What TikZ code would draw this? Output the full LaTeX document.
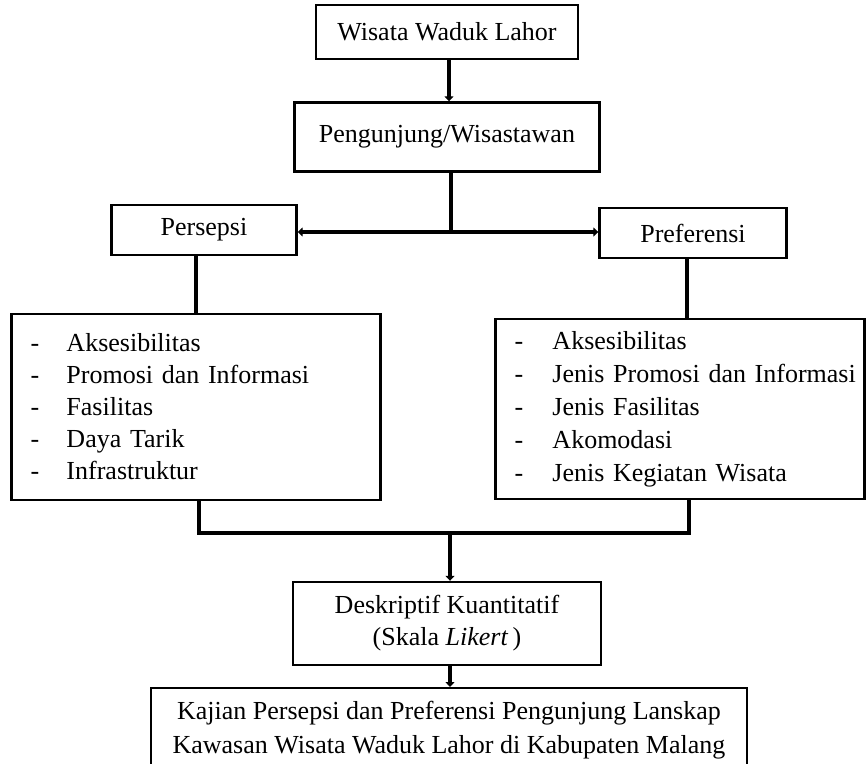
\documentclass[tikz,border=0pt]{standalone}
\usepackage{fontspec}
\setmainfont{Liberation Serif}
\usetikzlibrary{arrows.meta,positioning}
\newcommand{\butir}[2][36pt]{\hspace*{19pt}\makebox[#1][l]{-}#2}

\begin{document}
\begin{tikzpicture}[x=1pt,y=-1pt,
   font=\fontsize{26}{32}\selectfont,
   blok/.style={draw=black,line width=2.4pt,inner sep=0pt,align=center},
   daftar/.style={draw=black,line width=2.4pt,inner sep=0pt,text width=369pt,align=left},
   garis/.style={line width=3.6pt},
   panah/.style={garis,-{Triangle[length=5pt,width=9pt]}}]
  \useasboundingbox (0,0) rectangle (866,763);
  \node[blok,minimum width=262pt,minimum height=54pt] (wisata) at (447,32) {Wisata Waduk Lahor};
  \node[blok,minimum width=305pt,minimum height=69pt] (pengunjung) at (447,137) {Pengunjung/Wisastawan};
  \node[blok,minimum width=185pt,minimum height=50pt] (persepsi) at (204,230) {Persepsi};
  \node[blok,minimum width=187pt,minimum height=50pt] (preferensi) at (693,233) {Preferensi};
  \node[daftar,minimum height=186pt] (daftarA) at (196,407)
    {\butir{Aksesibilitas}\\
     \butir{Promosi dan Informasi}\\
     \butir{Fasilitas}\\
     \butir{Daya Tarik}\\
     \butir{Infrastruktur}};
  \node[daftar,minimum height=180pt,font=\fontsize{26}{33}\selectfont] (daftarB) at (680,409)
    {\butir[38pt]{Aksesibilitas}\\
     \butir[38pt]{Jenis Promosi dan Informasi}\\
     \butir[38pt]{Jenis Fasilitas}\\
     \butir[38pt]{Akomodasi}\\
     \butir[38pt]{Jenis Kegiatan Wisata}};
  \node[blok,minimum width=308pt,minimum height=83pt] (deskriptif) at (447,623.5)
    {Deskriptif Kuantitatif\\(Skala \textit{Likert}\,)};
  \node[blok,anchor=north,minimum width=596pt,inner ysep=13pt,
        font=\fontsize{26}{34}\selectfont] (kajian) at (449,687)
    {Kajian Persepsi dan Preferensi Pengunjung Lanskap\\Kawasan Wisata Waduk Lahor di Kabupaten Malang};

  % alur
  \coordinate (cabang) at (451,232);
  \coordinate (gabung) at (450,533);
  \draw[panah] (wisata.south -| 449,0) -- (pengunjung.north -| 449,0);
  \draw[garis] (pengunjung.south -| cabang) -- (cabang);
  \draw[panah] (cabang) -- (cabang -| persepsi.east);
  \draw[panah] (cabang) -- (cabang -| preferensi.west);
  \draw[garis] (persepsi.south -| daftarA.north) -- (daftarA.north);
  \draw[garis] ([xshift=-6pt]preferensi.south) -- ([xshift=-6pt]preferensi.south |- daftarB.north);
  \draw[garis] ([xshift=3pt]daftarA.south) |- (gabung) -| ([xshift=9pt]daftarB.south);
  \draw[panah] (gabung) -- (gabung |- deskriptif.north);
  \draw[panah] (deskriptif.south -| 450,0) -- (kajian.north -| 450,0);
\end{tikzpicture}
\end{document}
